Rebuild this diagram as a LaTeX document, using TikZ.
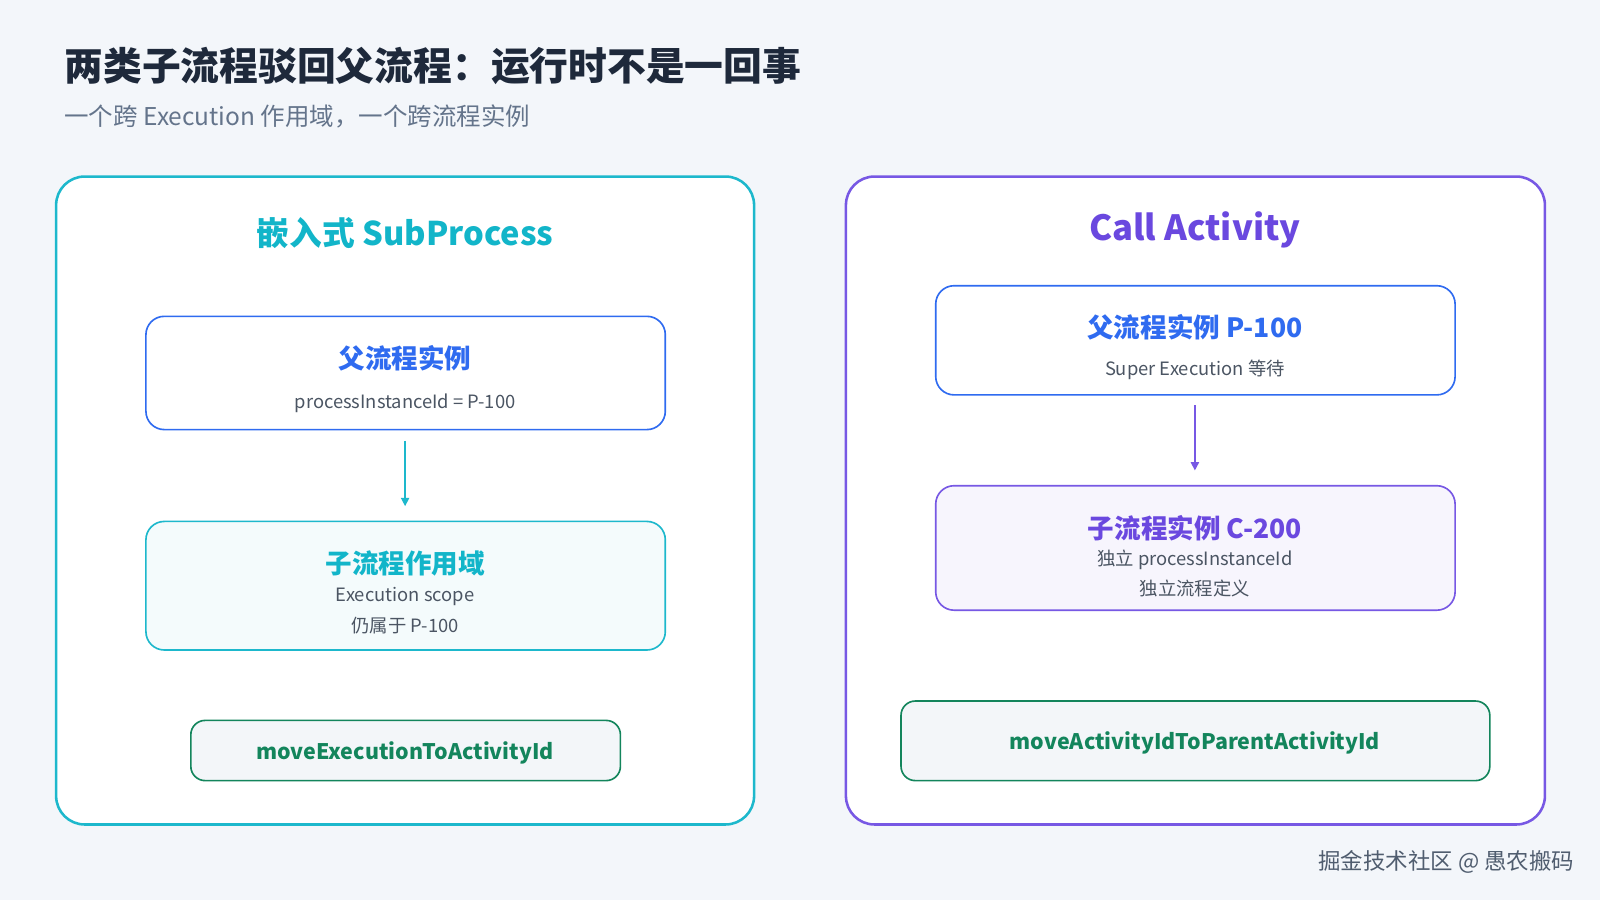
\documentclass[tikz,border=0pt]{standalone}
\usepackage{fontspec}
\setmainfont{Noto Sans CJK SC}
\usetikzlibrary{arrows.meta}
\definecolor{bg}{HTML}{F3F6FA}
\definecolor{navy}{HTML}{1E293B}
\definecolor{sub}{HTML}{64748B}
\definecolor{cyan}{HTML}{1DB8CC}
\definecolor{cyant}{HTML}{12B5C9}
\definecolor{blue}{HTML}{2F6BF0}
\definecolor{purple}{HTML}{7758E4}
\definecolor{purplet}{HTML}{6A48DF}
\definecolor{green}{HTML}{13855C}
\definecolor{gtext}{HTML}{4B5563}
\tikzset{
 panel/.style={draw=#1,line width=2.5pt,fill=white,rounded corners=28pt},
 card/.style={draw=#1,line width=1.6pt,rounded corners=18pt},
 btxt/.style={font=\bfseries\fontsize{26}{30}\selectfont,text=#1,inner sep=0},
 stxt/.style={font=\fontsize{18}{22}\selectfont,text=gtext,inner sep=0},
 gbox/.style={draw=green,line width=1.6pt,fill=white!94!green!20!bg,rounded corners=14pt},
 arr/.style={draw=#1,line width=1.4pt,-{Triangle[length=8pt,width=8pt]}},
}
\begin{document}
\begin{tikzpicture}[x=1pt,y=-1pt]
\path[fill=bg] (0,0) rectangle (1568,882);
\useasboundingbox (0,0) rectangle (1568,882);
\node[anchor=west,inner sep=0,text=navy,font=\bfseries\fontsize{38}{44}\selectfont] (title) at (63,65) {两类子流程驳回父流程：运行时不是一回事};
\node[anchor=west,inner sep=0,text=sub,font=\fontsize{24}{28}\selectfont] (subtitle) at (63,114) {一个跨 Execution 作用域，一个跨流程实例};
% left panel
\path[panel=cyan] (55,173) rectangle (739,808);
\node[btxt=cyant,font=\bfseries\fontsize{32}{36}\selectfont] (lt) at (397,228) {嵌入式 SubProcess};
\draw[card=blue,fill=white] (143,310) rectangle (652,421);
\node[btxt=blue] (b1t) at (397,351) {父流程实例};
\node[stxt] (b1s) at (397,395) {processInstanceId = P-100};
\coordinate (a1s) at (397,432); \coordinate (a1e) at (397,496);
\draw[arr=cyan] (a1s) -- (a1e);
\draw[card=cyan,fill=cyan!5] (143,511) rectangle (652,637);
\node[btxt=cyant] (b2t) at (397,552) {子流程作用域};
\node[stxt] (b2s) at (397,585) {Execution scope};
\node[stxt] (b2u) at (397,613) {仍属于 P-100};
\draw[gbox] (187,706) rectangle (608,765);
\node[inner sep=0,text=green,font=\bfseries\fontsize{21}{25}\selectfont] (g1) at (397,738) {moveExecutionToActivityId};
% right panel
\path[panel=purple] (829,173) rectangle (1514,808);
\node[btxt=purplet,font=\bfseries\fontsize{34}{38}\selectfont] (rt) at (1171,225) {Call Activity};
\draw[card=blue,fill=white] (917,280) rectangle (1426,387);
\node[btxt=blue] (b3t) at (1171,321) {父流程实例 P-100};
\node[stxt] (b3s) at (1171,362) {Super Execution 等待};
\coordinate (a2s) at (1171,397); \coordinate (a2e) at (1171,461);
\draw[arr=purple] (a2s) -- (a2e);
\draw[card=purple,fill=purple!6] (917,476) rectangle (1426,598);
\node[btxt=purplet] (b4t) at (1171,518) {子流程实例 C-200};
\node[stxt] (b4s) at (1171,549) {独立 processInstanceId};
\node[stxt] (b4u) at (1171,577) {独立流程定义};
\draw[gbox] (883,687) rectangle (1460,765);
\node[inner sep=0,text=green,font=\bfseries\fontsize{21}{25}\selectfont] (g2) at (1171,728) {moveActivityIdToParentActivityId};
\node[anchor=east,inner sep=0,text=sub!80!black,font=\fontsize{22}{26}\selectfont] (wm) at (1543,845) {掘金技术社区 @ 愚农搬码};
\end{tikzpicture}
\end{document}
